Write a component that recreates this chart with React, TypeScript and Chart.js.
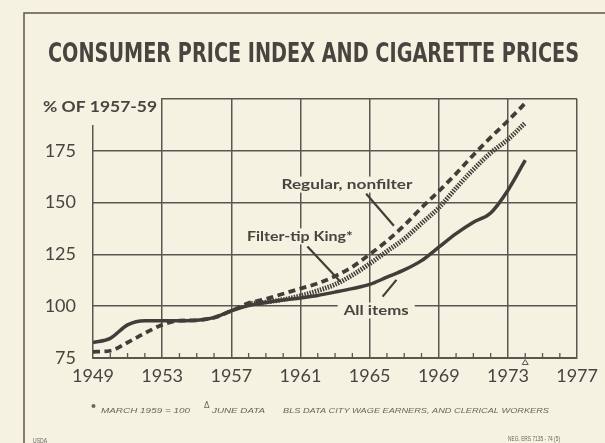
import React, { useEffect, useRef } from "react";
import { Chart, registerables } from "chart.js";

Chart.register(...registerables);

// ---------- data ----------
const years = [
  1949, 1950, 1951, 1952, 1953, 1954, 1955, 1956, 1957, 1958, 1959, 1960, 1961,
  1962, 1963, 1964, 1965, 1966, 1967, 1968, 1969, 1970, 1971, 1972, 1973, 1974,
];
const allItems = [
  82.5, 84.5, 91, 93, 93, 93, 93.2, 94.5, 97.8, 100.3, 101.8, 103, 104, 105.2,
  106.8, 108.5, 110.5, 114, 117.5, 122, 128.5, 135, 140.5, 145, 156, 170.5,
];
const regularNonfilter = [
  78, 78.5, 82.5, 87, 91, 93, 93.2, 94.5, 97.8, 101.5, 103.5, 106, 108.5, 111,
  114.5, 119, 125, 131.5, 139, 147.5, 155.5, 164, 173, 181.5, 189.5, 198,
];
const filterTipYears = [
  1958, 1959, 1960, 1961, 1962, 1963, 1964, 1965, 1966, 1967, 1968, 1969, 1970,
  1971, 1972, 1973, 1974,
];
const filterTipKing = [
  101.2, 102, 103.2, 105, 107.5, 110.5, 115, 120.5, 126.5, 132.5, 140, 147.5,
  157, 166, 174, 180.5, 188.5,
];
const yTickValues = [75, 100, 125, 150, 175];
const xLabelYears = [1949, 1953, 1957, 1961, 1965, 1969, 1973, 1977];

// ---------- styling ----------
const BG = "#f5f2e2";
const INK = "#4a4440";
const GRID = "#5c5650";
const LINE = "#433d39";

// annotation labels (placed in data coordinates)
const annotations = [
  {
    text: "Regular, nonfilter",
    year: 1959.9,
    value: 158.7,
    width: 131,
    leader: [
      [1964.8, 154.3],
      [1966.4, 138.8],
    ],
  },
  {
    text: "Filter-tip King*",
    year: 1957.9,
    value: 133.7,
    width: 106,
    leader: [
      [1961.4, 128.8],
      [1963.3, 111.9],
    ],
  },
  {
    text: "All items",
    year: 1963.5,
    value: 97.9,
    width: 65,
    leader: [
      [1966.55, 112.7],
      [1965.75, 104.6],
    ],
  },
];

function fitText(
  ctx: CanvasRenderingContext2D,
  text: string,
  x: number,
  y: number,
  width: number,
  font: string,
  color: string
) {
  ctx.save();
  ctx.font = font;
  ctx.fillStyle = color;
  ctx.textAlign = "left";
  ctx.textBaseline = "alphabetic";
  const w = ctx.measureText(text).width;
  ctx.translate(x, y);
  ctx.scale(width / w, 1);
  ctx.fillText(text, 0, 0);
  ctx.restore();
}

const decorPlugin = {
  id: "decor",
  beforeDraw(chart: any) {
    const ctx: CanvasRenderingContext2D = chart.ctx;
    ctx.save();
    ctx.fillStyle = BG;
    ctx.fillRect(0, 0, chart.width, chart.height);
    // outer frame (top and left)
    ctx.strokeStyle = GRID;
    ctx.lineWidth = 1.5;
    ctx.beginPath();
    ctx.moveTo(24, chart.height);
    ctx.lineTo(24, 13);
    ctx.lineTo(chart.width, 13);
    ctx.stroke();
    ctx.restore();
    // title
    fitText(
      ctx,
      "CONSUMER PRICE INDEX AND CIGARETTE PRICES",
      48,
      61.5,
      531,
      "bold 26px 'DejaVu Sans Condensed', 'DejaVu Sans'",
      INK
    );
    // footnotes
    const small = "italic 8px 'Liberation Sans', 'DejaVu Sans'";
    const foot = "#6a645d";
    ctx.save();
    ctx.fillStyle = foot;
    ctx.beginPath();
    ctx.arc(93.5, 406, 2, 0, Math.PI * 2);
    ctx.fill();
    ctx.font = "8px 'DejaVu Sans'";
    ctx.fillText("\u0394", 204, 408);
    ctx.restore();
    fitText(ctx, "MARCH 1959 = 100", 101, 413, 89, small, foot);
    fitText(ctx, "JUNE DATA", 212, 413, 53, small, foot);
    fitText(
      ctx,
      "BLS DATA CITY WAGE EARNERS, AND CLERICAL WORKERS",
      283,
      413,
      266,
      small,
      foot
    );
    fitText(ctx, "USDA", 33, 442.5, 14, "7px 'Liberation Sans'", foot);
    fitText(ctx, "NEG. ERS 7135 - 74 (5)", 508, 440.5, 52, "7px 'Liberation Sans'", foot);
  },
  beforeDatasetsDraw(chart: any) {
    const ctx: CanvasRenderingContext2D = chart.ctx;
    const xs = chart.scales.x;
    const ys = chart.scales.y;
    const area = chart.chartArea;

    // minor year ticks on the x axis, pointing up
    ctx.save();
    ctx.strokeStyle = GRID;
    ctx.lineWidth = 1.3;
    for (let yr = 1950; yr < 1977; yr++) {
      if (xLabelYears.includes(yr)) continue;
      const px = xs.getPixelForValue(yr);
      ctx.beginPath();
      ctx.moveTo(px, area.bottom);
      ctx.lineTo(px, area.bottom - 5);
      ctx.stroke();
    }
    ctx.restore();

    // axis unit label with background that hides the grid corner
    ctx.save();
    ctx.fillStyle = BG;
    ctx.fillRect(area.left - 62, area.top - 8, 130, 34);
    ctx.restore();
    fitText(
      ctx,
      "% OF 1957-59",
      area.left - 50,
      area.top + 12.5,
      114,
      "bold 16px 'Lato', 'DejaVu Sans'",
      INK
    );

    // annotation labels
    for (const a of annotations) {
      const x = xs.getPixelForValue(a.year);
      const y = ys.getPixelForValue(a.value);
      ctx.save();
      ctx.fillStyle = BG;
      ctx.fillRect(x - 6, y - 8, a.width + 12, 16);
      ctx.restore();
      fitText(ctx, a.text, x, y + 4.5, a.width, "bold 13px 'Lato', 'DejaVu Sans'", INK);
      ctx.save();
      ctx.strokeStyle = LINE;
      ctx.lineWidth = 2.2;
      ctx.beginPath();
      ctx.moveTo(xs.getPixelForValue(a.leader[0][0]), ys.getPixelForValue(a.leader[0][1]));
      ctx.lineTo(xs.getPixelForValue(a.leader[1][0]), ys.getPixelForValue(a.leader[1][1]));
      ctx.stroke();
      ctx.restore();
    }
  },
  afterDraw(chart: any) {
    const ctx: CanvasRenderingContext2D = chart.ctx;
    const xs = chart.scales.x;
    const area = chart.chartArea;
    // June-data triangle marker under the last point
    const px = xs.getPixelForValue(years[years.length - 1]);
    ctx.save();
    ctx.strokeStyle = GRID;
    ctx.lineWidth = 1;
    ctx.beginPath();
    ctx.moveTo(px, area.bottom + 1.5);
    ctx.lineTo(px - 3, area.bottom + 6.5);
    ctx.lineTo(px + 3, area.bottom + 6.5);
    ctx.closePath();
    ctx.stroke();
    ctx.restore();
  },
};

export default function App() {
  const ref = useRef<HTMLCanvasElement | null>(null);

  useEffect(() => {
    document.body.style.margin = "0";
    document.body.style.background = BG;
    const canvas = ref.current;
    if (!canvas) return;

    const chart = new Chart(canvas, {
      type: "line",
      data: {
        datasets: [
          {
            label: "All items",
            data: years.map((yr, i) => ({ x: yr, y: allItems[i] })),
            borderColor: LINE,
            borderWidth: 3.5,
            pointRadius: 0,
            cubicInterpolationMode: "monotone",
            fill: false,
          },
          {
            label: "Regular, nonfilter",
            data: years.map((yr, i) => ({ x: yr, y: regularNonfilter[i] })),
            borderColor: LINE,
            borderWidth: 3.8,
            borderDash: [7, 4.5],
            pointRadius: 0,
            cubicInterpolationMode: "monotone",
            fill: false,
          },
          {
            label: "Filter-tip King*",
            data: filterTipYears.map((yr, i) => ({ x: yr, y: filterTipKing[i] })),
            borderColor: LINE,
            borderWidth: 4.8,
            borderDash: [1.5, 1.2],
            pointRadius: 0,
            cubicInterpolationMode: "monotone",
            fill: false,
          },
        ],
      },
      options: {
        responsive: false,
        animation: false,
        devicePixelRatio: 1,
        layout: { padding: { top: 99, right: 22, left: 0, bottom: 0 } },
        plugins: {
          legend: { display: false },
          tooltip: { enabled: false },
          title: { display: false },
        },
        scales: {
          x: {
            type: "linear",
            min: 1949,
            max: 1977,
            afterFit: (s: any) => {
              s.height = 85;
            },
            ticks: {
              stepSize: 1,
              autoSkip: false,
              maxRotation: 0,
              padding: 7,
              color: INK,
              font: { family: "Lato", size: 18 },
              callback: (v: any) => (xLabelYears.includes(Number(v)) ? String(v) : ""),
            },
            grid: {
              drawTicks: false,
              lineWidth: 1.5,
              color: (c: any) =>
                c.tick && xLabelYears.includes(c.tick.value) ? GRID : "rgba(0,0,0,0)",
            },
            border: { display: true, color: GRID, width: 2 },
          },
          y: {
            type: "linear",
            min: 75,
            max: 200,
            afterFit: (s: any) => {
              s.width = 93;
            },
            ticks: {
              stepSize: 25,
              padding: 17,
              color: INK,
              font: { family: "Lato", size: 18 },
              callback: (v: any) => (yTickValues.includes(Number(v)) ? String(v) : ""),
            },
            grid: {
              drawTicks: false,
              lineWidth: 1.5,
              color: (c: any) => (c.tick && c.tick.value > 75 ? GRID : "rgba(0,0,0,0)"),
            },
            border: { display: false },
          },
        },
      } as any,
      plugins: [decorPlugin],
    });

    return () => chart.destroy();
  }, []);

  return (
    <div style={{ width: 605, height: 443, background: BG }}>
      <canvas ref={ref} width={605} height={443} style={{ display: "block" }} />
    </div>
  );
}
